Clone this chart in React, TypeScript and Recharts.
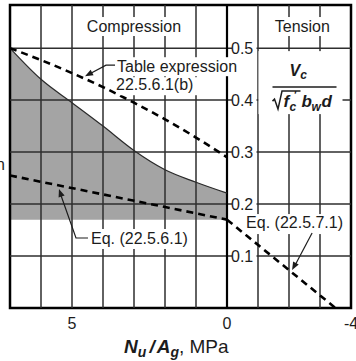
import React from 'react';
import {
  ComposedChart,
  Area,
  Line,
  XAxis,
  YAxis,
  ReferenceLine,
  ReferenceDot,
  ReferenceArea,
} from 'recharts';

const FONT = '"Liberation Sans", Arial, Helvetica, sans-serif';
const INK = '#1c1c1c';

// Axial stress Nu/Ag (MPa), compression positive
const stressX = [7, 6, 5, 4, 3, 2, 1, 0];
// Solid curve bounding the shaded region
const curveVc = [0.5, 0.44, 0.395, 0.35, 0.303, 0.266, 0.242, 0.221];
// Table expression 22.5.6.1(b)
const tableVc = [0.5, 0.477, 0.452, 0.425, 0.395, 0.363, 0.328, 0.29];
// Lower edge of shaded region
const shadeFloor = 0.17;
// Eq. (22.5.6.1)
const eq2261X = [7, 0];
const eq2261Vc = [0.255, 0.17];
// Eq. (22.5.7.1)
const eq2271X = [0, -3.5];
const eq2271Vc = [0.17, 0];

const xTicks = [5, 0, -4];
const xGrid = [6, 5, 4, 3, 2, 1, -1, -2, -3];
const yGrid = [0.1, 0.2, 0.3, 0.4, 0.5];
const yTickLabels = ['0.1', '0.2', '0.3', '0.4', '0.5'];
const X_MIN = -4;
const X_MAX = 7;
const Y_MAX = 0.583;

const mainRows = stressX.map((x, i) => ({
  x,
  curve: curveVc[i],
  table: tableVc[i],
  shade: [shadeFloor, curveVc[i]],
}));
const eq2261Rows = eq2261X.map((x, i) => ({ x, y: eq2261Vc[i] }));
const eq2271Rows = eq2271X.map((x, i) => ({ x, y: eq2271Vc[i] }));

const txt = { fontFamily: FONT, fontSize: 16, fill: INK } as const;
const bi = { fontWeight: 'bold', fontStyle: 'italic' } as const;

function arrowHead(tx: number, ty: number, fx: number, fy: number) {
  const dx = tx - fx;
  const dy = ty - fy;
  const len = Math.sqrt(dx * dx + dy * dy) || 1;
  const ux = dx / len;
  const uy = dy / len;
  const L = 8;
  const W = 3.2;
  const bx = tx - ux * L;
  const by = ty - uy * L;
  return `${tx},${ty} ${bx - uy * W},${by + ux * W} ${bx + uy * W},${by - ux * W}`;
}

function anchor(key: string, x: number, y: number, render: (cx: number, cy: number) => React.ReactElement) {
  return (
    <ReferenceDot
      key={key}
      x={x}
      y={y}
      r={1}
      ifOverflow="visible"
      shape={(p: any) => render(p.cx, p.cy)}
    />
  );
}

const XTick = (p: any) => (
  <text x={p.x} y={p.y + 13} textAnchor="middle" {...txt}>
    {String(p.payload.value)}
  </text>
);

export default function App() {
  return (
    <div style={{ position: 'absolute', left: 0, top: 0, background: '#fff' }}>
      <ComposedChart
        width={356}
        height={361}
        data={mainRows}
        margin={{ top: 5, right: 5, bottom: 0, left: 10 }}
      >
        <XAxis
          dataKey="x"
          type="number"
          domain={[X_MIN, X_MAX]}
          reversed
          allowDataOverflow
          ticks={xTicks}
          interval={0}
          tickLine={false}
          axisLine={false}
          height={53}
          tick={XTick}
        />
        <YAxis type="number" domain={[0, Y_MAX]} allowDataOverflow hide />

        <Area
          dataKey="shade"
          type="monotone"
          fill="#a4a4a4"
          fillOpacity={1}
          stroke="none"
          isAnimationActive={false}
        />

        {xGrid.map((v) => (
          <ReferenceLine key={'gx' + v} x={v} stroke="#2e2e2e" strokeWidth={1.5} />
        ))}
        {yGrid.map((v) => (
          <ReferenceLine key={'gy' + v} y={v} stroke="#2e2e2e" strokeWidth={1.5} />
        ))}
        <ReferenceLine x={0} stroke="#000" strokeWidth={2.2} />

        <Line
          dataKey="curve"
          type="monotone"
          stroke="#2a2a2a"
          strokeWidth={1.2}
          dot={false}
          isAnimationActive={false}
        />
        <Line
          dataKey="table"
          type="monotone"
          stroke="#000"
          strokeWidth={2.6}
          strokeDasharray="7 5"
          dot={false}
          isAnimationActive={false}
        />
        <Line
          data={eq2261Rows}
          dataKey="y"
          type="linear"
          stroke="#000"
          strokeWidth={2.6}
          strokeDasharray="7 5"
          dot={false}
          isAnimationActive={false}
        />
        <Line
          data={eq2271Rows}
          dataKey="y"
          type="linear"
          stroke="#000"
          strokeWidth={2.6}
          strokeDasharray="7 5"
          dot={false}
          isAnimationActive={false}
        />

        <ReferenceArea
          x1={X_MAX}
          x2={X_MIN}
          y1={0}
          y2={Y_MAX}
          fill="none"
          fillOpacity={0}
          stroke="#000"
          strokeWidth={2.5}
        />

        {yGrid.map((v, i) =>
          anchor('yl' + v, 0, v, (cx, cy) => (
            <g>
              <rect x={cx + 5} y={cy - 9} width={24.5} height={18} fill="#fff" />
              <text x={cx + 4} y={cy + 6} {...txt}>
                {yTickLabels[i]}
              </text>
            </g>
          ))
        )}

        {anchor('comp', 3.0, 0.531, (cx, cy) => (
          <g>
            <rect x={cx - 51} y={cy - 15} width={102} height={19} fill="#fff" />
            <text x={cx} y={cy} textAnchor="middle" {...txt}>
              Compression
            </text>
          </g>
        ))}
        {anchor('tens', -2.43, 0.531, (cx, cy) => (
          <g>
            <rect x={cx - 32} y={cy - 15} width={64} height={19} fill="#fff" />
            <text x={cx} y={cy} textAnchor="middle" {...txt}>
              Tension
            </text>
          </g>
        ))}

        {anchor('tbl', 4.58, 0.446, (cx, cy) => (
          <g>
            <rect x={cx + 30} y={cy - 19} width={130} height={19} fill="#fff" />
            <rect x={cx + 31} y={cy + 1} width={84} height={18} fill="#fff" />
            <text x={cx + 32} y={cy - 4} {...txt}>
              Table expression
            </text>
            <text x={cx + 31} y={cy + 14} {...txt}>
              22.5.6.1(b)
            </text>
            <polyline
              points={`${cx + 30},${cy - 11} ${cx + 21},${cy - 11} ${cx + 3},${cy - 1.5}`}
              fill="none"
              stroke={INK}
              strokeWidth={1.2}
            />
            <polygon points={arrowHead(cx, cy, cx + 21, cy - 11)} fill={INK} />
          </g>
        ))}

        {anchor('e2261', 5.42, 0.229, (cx, cy) => (
          <g>
            <rect x={cx + 30} y={cy + 40} width={104} height={20} fill="#fff" />
            <text x={cx + 32} y={cy + 55} {...txt}>
              Eq. (22.5.6.1)
            </text>
            <polyline
              points={`${cx + 29},${cy + 49} ${cx + 17},${cy + 49} ${cx + 1.5},${cy + 5}`}
              fill="none"
              stroke={INK}
              strokeWidth={1.2}
            />
            <polygon points={arrowHead(cx, cy, cx + 17, cy + 49)} fill={INK} />
          </g>
        ))}

        {anchor('e2271', -2.1, 0.073, (cx, cy) => (
          <g>
            <rect x={cx - 48} y={cy - 56} width={104} height={20} fill="#fff" />
            <text x={cx - 46} y={cy - 42} {...txt}>
              Eq. (22.5.7.1)
            </text>
            <line x1={cx + 20} y1={cy - 37} x2={cx + 2} y2={cy - 3} stroke={INK} strokeWidth={1.2} />
            <polygon points={arrowHead(cx, cy, cx + 20, cy - 37)} fill={INK} />
          </g>
        ))}

        {anchor('frac', -2.5, 0.4, (cx, cy) => (
          <g>
            <rect x={cx - 46} y={cy - 49} width={84} height={63} fill="#fff" />
            <text x={cx - 15} y={cy - 24} {...txt} {...bi} fontSize={16}>
              V
              <tspan fontSize={12} dy={3}>
                c
              </tspan>
            </text>
            <line x1={cx - 32} x2={cx + 32} y1={cy - 13} y2={cy - 13} stroke={INK} strokeWidth={1.5} />
            <polyline
              points={`${cx - 32},${cy + 1} ${cx - 30},${cy - 1} ${cx - 26.5},${cy + 9} ${cx - 22.5},${cy - 9} ${cx - 4},${cy - 9}`}
              fill="none"
              stroke={INK}
              strokeWidth={1.5}
            />
            <text x={cx - 21} y={cy + 7} {...txt} {...bi} fontSize={17}>
              f
            </text>
            <text x={cx - 11} y={cy - 1} {...txt} {...bi} fontSize={11}>
              '
            </text>
            <text x={cx - 15} y={cy + 11} {...txt} {...bi} fontSize={12}>
              c
            </text>
            <text x={cx - 3} y={cy + 7} {...txt} {...bi} fontSize={17}>
              b
            </text>
            <text x={cx + 7} y={cy + 11} {...txt} {...bi} fontSize={12}>
              w
            </text>
            <text x={cx + 17} y={cy + 7} {...txt} {...bi} fontSize={17}>
              d
            </text>
          </g>
        ))}

        {anchor('nleft', X_MAX, 0.2655, (cx, cy) => (
          <text x={cx - 14} y={cy} {...txt}>
            n
          </text>
        ))}

        {anchor('xtitle', 3.32, 0, (cx, cy) => (
          <text x={cx} y={cy + 45} {...txt} fontSize={19}>
            <tspan {...bi}>N</tspan>
            <tspan {...bi} fontSize={14} dy={4}>
              u
            </tspan>
            <tspan {...bi} dy={-4} dx={3}>
              /
            </tspan>
            <tspan {...bi} dx={2}>
              A
            </tspan>
            <tspan {...bi} fontSize={14} dy={4}>
              g
            </tspan>
            <tspan dy={-4}>, MPa</tspan>
          </text>
        ))}
      </ComposedChart>
    </div>
  );
}
